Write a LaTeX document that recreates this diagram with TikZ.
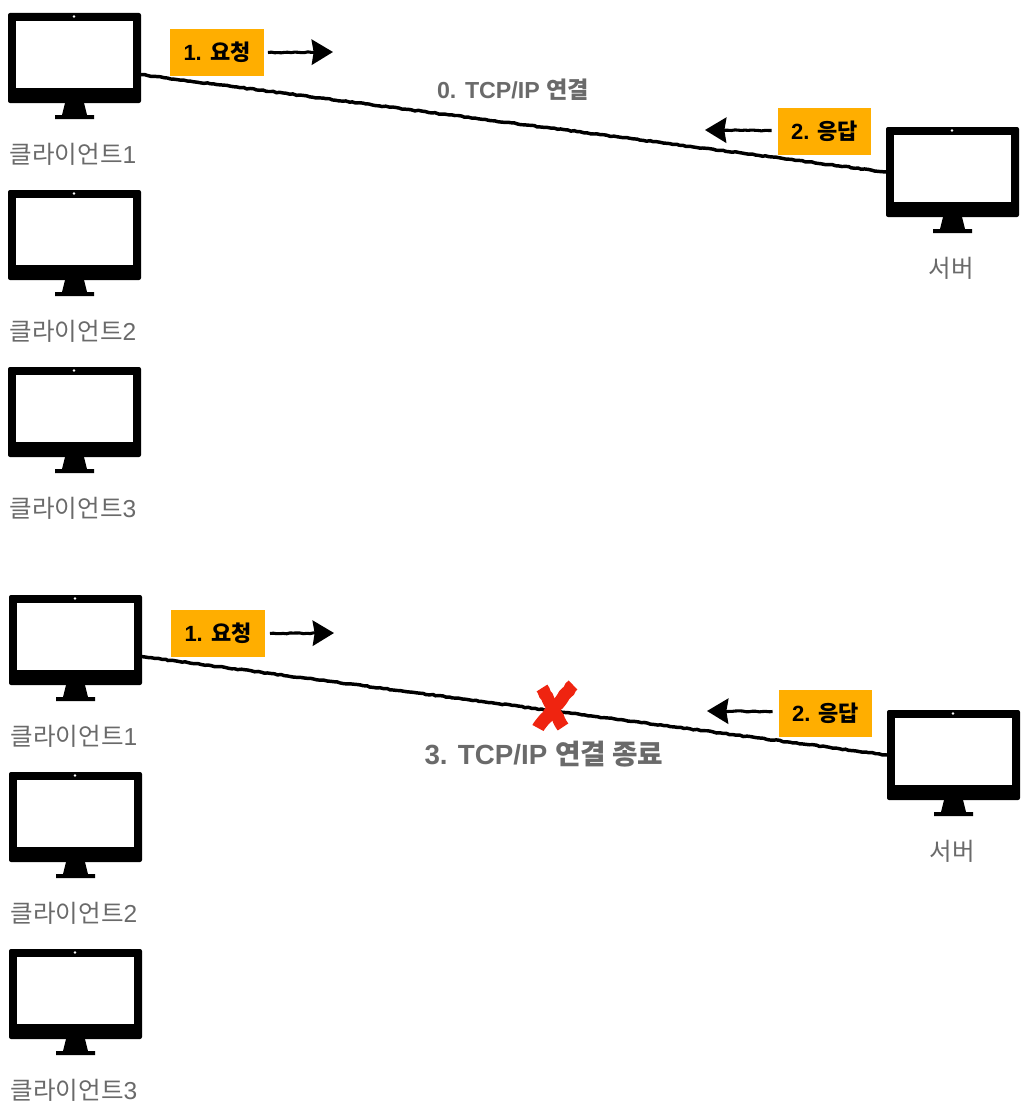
\documentclass[tikz,border=0pt]{standalone}
\usepackage{fontspec}
\setmainfont{Liberation Sans}
\newfontfamily\krfont{Noto Sans CJK KR}
\newcommand{\kr}[1]{{\krfont #1}}
\usepackage{xcolor}
\usetikzlibrary{calc, arrows.meta, decorations.pathmorphing}
\definecolor{LabelGray}{HTML}{6A6A6A}
\definecolor{BoxOrange}{HTML}{FFAE00}
\definecolor{CrossRed}{HTML}{EF2410}
\tikzset{
  monbody/.style={fill=black, rounded corners=1.5pt, inner sep=0pt, outer sep=0pt, minimum width=99.75pt, minimum height=67.5pt},
  monscreen/.style={fill=white, inner sep=0pt, outer sep=0pt, minimum width=87.75pt, minimum height=50.25pt},
  monlabel/.style={text=LabelGray, font=\fontsize{18.4}{20}\selectfont},
  stepbox/.style={fill=BoxOrange, inner sep=0pt, minimum width=70pt, minimum height=35.25pt, font=\fontsize{16.5}{18}\selectfont\bfseries},
  scribble/.style={decorate, decoration={random steps, segment length=2.5pt, amplitude=0.4pt}},
  wire/.style={scribble, line width=2.6pt, black},
  flow/.style={line width=2.3pt, black, -{Stealth[length=16pt, width=19pt, inset=1.5pt]},
    decoration={random steps, segment length=2.5pt, amplitude=0.35pt, post length=8pt}, decorate},
  pics/monitor/.style={code={
    \node[monbody] (-body) at (66.5,45) {};
    \node[monscreen] (-screen) at (66.5,41.5) {};
    \fill[white] (66,3.5) circle (1.1pt);
    \fill[black] (57,90) -- (76,90) -- (79,102) -- (86,102) -- (86,106) -- (47,106) -- (47,102) -- (54,102) -- cycle;
    \node[monlabel] (-label) at (65,141) {#1};
  }}
}
\begin{document}
\begin{tikzpicture}[x=0.75pt, y=-0.75pt]
  \useasboundingbox (0,0) rectangle (1032,1106);
  % upper half
  \foreach \n/\y in {1/13, 2/190, 3/367}{
    \pic (ta\n) at (8,\y) {monitor={\kr{클라이언트}\n}};
  }
  \pic (ts) at (886,127) {monitor={\kr{서버}}};
  \draw[wire] (ta1-body.-14) -- (ts-body.west);
  \node[stepbox] (treq) at (217,52.5) {1. \kr{요청}};
  \node[stepbox] (tres) at (824.5,131.5) {2. \kr{응답}};
  \coordinate (treqend) at (333,52);
  \coordinate (tresend) at (705,130);
  \draw[flow] ($(treq.east)+(4,0)$) -- (treqend);
  \draw[flow] ($(tres.west)-(6,1)$) -- (tresend);
  \node[text=LabelGray, font=\fontsize{17.4}{18}\selectfont\bfseries] (tconn) at (513,90) {0. TCP/IP \kr{연결}};
  % lower half
  \foreach \n/\y in {1/595, 2/772, 3/949}{
    \pic (ba\n) at (9,\y) {monitor={\kr{클라이언트}\n}};
  }
  \pic (bs) at (887,710) {monitor={\kr{서버}}};
  \draw[wire] (ba1-body.-14) -- (bs-body.west);
  \node[stepbox] (breq) at (218,633.5) {1. \kr{요청}};
  \node[stepbox] (bres) at (825.5,713.5) {2. \kr{응답}};
  \coordinate (breqend) at (334,633);
  \coordinate (bresend) at (707,711);
  \draw[flow] ($(breq.east)+(5,0)$) -- (breqend);
  \draw[flow] ($(bres.west)-(6,2)$) -- (bresend);
  % the red cross
  \draw[CrossRed, line width=9.5pt, scribble] (542,688) -- (563,727);
  \draw[CrossRed, line width=9.5pt, scribble] (573,685) -- (538,728);
  \node[text=LabelGray, font=\fontsize{20.8}{22}\selectfont\bfseries] (bclose) at (544,754) {3. TCP/IP \kr{연결 종료}};
\end{tikzpicture}
\end{document}
